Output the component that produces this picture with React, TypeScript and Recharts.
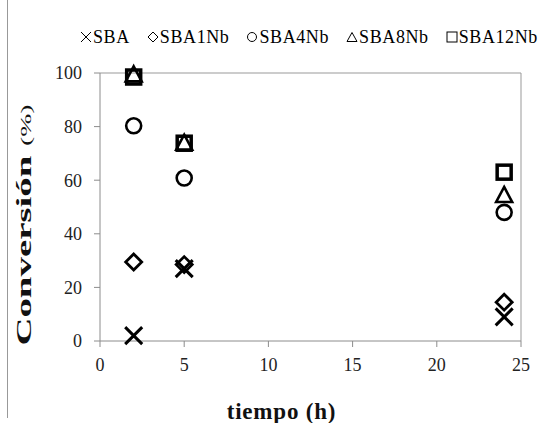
import React from "react";
import { ScatterChart, Scatter, XAxis, YAxis, ReferenceLine, Legend } from "recharts";

// reaction time (h)
const times = [2, 5, 24];

// conversion (%) per catalyst
const sba = [2, 27, 9];
const sba1Nb = [29.5, 28.5, 14.5];
const sba4Nb = [80.3, 60.8, 48];
const sba8Nb = [99.5, 74, 54.5];
const sba12Nb = [98.5, 73.8, 63];

const xTicks = [0, 5, 10, 15, 20, 25];
const yTicks = [0, 20, 40, 60, 80, 100];

const FONT = "'Liberation Serif', 'Times New Roman', serif";
const AXIS = "#8c8c8c";

const toPoints = (vals: number[]) => times.map((t, i) => ({ t, v: vals[i] }));

const XShape = (p: any) => {
  const { cx, cy } = p;
  const h = 8.5;
  return (
    <path
      d={`M${cx - h},${cy - h}L${cx + h},${cy + h}M${cx + h},${cy - h}L${cx - h},${cy + h}`}
      stroke="#000"
      strokeWidth={3}
      fill="none"
    />
  );
};

const DiamondShape = (p: any) => {
  const { cx, cy } = p;
  const h = 8;
  return (
    <polygon
      points={`${cx},${cy - h} ${cx + h},${cy} ${cx},${cy + h} ${cx - h},${cy}`}
      stroke="#000"
      strokeWidth={2.8}
      fill="none"
    />
  );
};

const CircleShape = (p: any) => (
  <circle cx={p.cx} cy={p.cy} r={7.5} stroke="#000" strokeWidth={2.6} fill="none" />
);

const TriangleShape = (p: any) => {
  const { cx, cy } = p;
  return (
    <polygon
      points={`${cx},${cy - 8} ${cx + 8},${cy + 7} ${cx - 8},${cy + 7}`}
      stroke="#000"
      strokeWidth={2.6}
      fill="none"
    />
  );
};

const SquareShape = (p: any) => (
  <rect x={p.cx - 7} y={p.cy - 7} width={14} height={14} stroke="#000" strokeWidth={3.5} fill="none" />
);

const series = [
  { name: "SBA", data: sba, shape: XShape, icon: "x" },
  { name: "SBA1Nb", data: sba1Nb, shape: DiamondShape, icon: "diamond" },
  { name: "SBA4Nb", data: sba4Nb, shape: CircleShape, icon: "circle" },
  { name: "SBA8Nb", data: sba8Nb, shape: TriangleShape, icon: "triangle" },
  { name: "SBA12Nb", data: sba12Nb, shape: SquareShape, icon: "square" },
];

function LegendIcon({ kind }: { kind: string }) {
  const s = { stroke: "#000", strokeWidth: 1, fill: "none" };
  return (
    <svg width={12} height={12} style={{ marginRight: 1 }}>
      {kind === "x" && <path d="M1,1L11,11M11,1L1,11" {...s} />}
      {kind === "diamond" && <polygon points="6,1 11,6 6,11 1,6" {...s} />}
      {kind === "circle" && <circle cx={6} cy={6} r={4.5} {...s} />}
      {kind === "triangle" && <polygon points="6,1.5 11,10.5 1,10.5" {...s} />}
      {kind === "square" && <rect x={1} y={1} width={10} height={10} {...s} />}
    </svg>
  );
}

const renderLegend = () => (
  <div style={{ display: "flex", gap: 17, fontFamily: FONT, fontSize: 18, lineHeight: "20px", letterSpacing: 0.6 }}>
    {series.map((s) => (
      <div key={s.name} style={{ display: "flex", alignItems: "center" }}>
        <LegendIcon kind={s.icon} />
        <span>{s.name}</span>
      </div>
    ))}
  </div>
);

const XTitle = (props: any) => {
  const vb = props.viewBox;
  return (
    <text
      x={vb.x + vb.width / 2 - 29}
      y={vb.y + 78}
      textAnchor="middle"
      fontFamily={FONT}
      fontWeight="bold"
      fontSize={23}
      letterSpacing={0.8}
      fill="#111"
    >
      tiempo (h)
    </text>
  );
};

const YTitle = (props: any) => {
  const vb = props.viewBox;
  const cx = vb.x + 31;
  const cy = vb.y + vb.height / 2 + 18;
  return (
    <text
      transform={`translate(${cx},${cy}) rotate(-90) scale(1.85,1)`}
      textAnchor="middle"
      fontFamily={FONT}
      fill="#111"
    >
      <tspan fontWeight="bold" fontSize={21}>Conversión </tspan>
      <tspan fontSize={15}>(%)</tspan>
    </text>
  );
};

export default function App() {
  return (
    <div style={{ position: "absolute", left: 0, top: 0, width: 548, height: 423, background: "#fff" }}>
      <div style={{ position: "absolute", left: 7, top: 0, width: 1, height: 418, background: "#999" }} />
      <ScatterChart width={548} height={423} margin={{ top: 73, right: 27, bottom: 0, left: 0 }}>
        <XAxis
          type="number"
          dataKey="t"
          domain={[0, 25]}
          ticks={xTicks}
          height={82}
          stroke={AXIS}
          tickSize={6}
          tickMargin={11}
          tick={{ fill: "#222", fontSize: 18, fontFamily: FONT }}
          label={<XTitle />}
        />
        <YAxis
          type="number"
          dataKey="v"
          domain={[0, 100]}
          ticks={yTicks}
          width={100}
          stroke={AXIS}
          tickSize={6}
          tickMargin={12}
          tick={{ fill: "#222", fontSize: 18, fontFamily: FONT }}
          label={<YTitle />}
        />
        <ReferenceLine y={100} stroke="#999" />
        <ReferenceLine x={25} stroke="#999" />
        <Legend
          verticalAlign="middle"
          align="center"
          content={renderLegend}
          wrapperStyle={{ top: 27, left: 80, width: "auto" }}
        />
        {series.map((s) => (
          <Scatter
            key={s.name}
            name={s.name}
            data={toPoints(s.data)}
            shape={s.shape}
            isAnimationActive={false}
          />
        ))}
      </ScatterChart>
    </div>
  );
}
